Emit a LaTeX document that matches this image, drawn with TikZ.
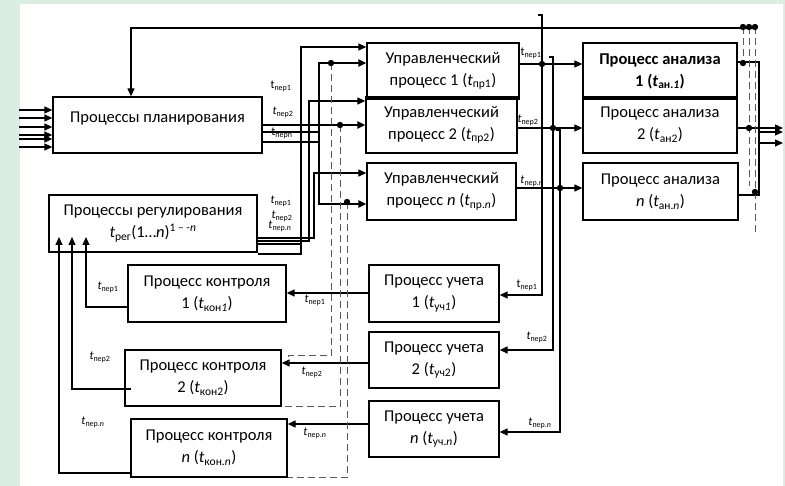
\documentclass[tikz,border=0pt]{standalone}
\usepackage{fontspec}
\setmainfont{Carlito}
\usepackage{xcolor}
\usetikzlibrary{arrows.meta}

\definecolor{bggreen}{RGB}{220,238,226}
\newcommand{\ti}[1]{\textit{t}\textsubscript{#1}}
\newcommand{\tu}[1]{t\textsubscript{#1}}

\tikzset{
  box/.style={draw, line width=1.3pt, align=center, inner sep=0pt,
    font=\fontsize{16.5}{22}\selectfont},
  wh/.style 2 args={minimum width=#1pt, minimum height=#2pt},
  arr/.style={-{Triangle[length=8pt,width=7pt]}},
  ln/.style={line width=1.2pt},
  thk/.style={line width=2.4pt},
  dsh/.style={black!65, line width=1pt, dash pattern=on 7pt off 4pt},
  lbl/.style={font=\fontsize{12}{13}\selectfont, inner sep=0pt},
}

\begin{document}
\begin{tikzpicture}[x=1pt,y=-1pt]
    \useasboundingbox (0,0) rectangle (785,486);
    \fill[bggreen] (0,0) rectangle (785,486);
    \fill[white] (20,4) rectangle (783,486);

    \node[box, wh={209}{56}, text depth=15pt] (plan) at (157.5,125) {Процессы планирования};
    \node[box, wh={208}{57}] (reg) at (153,223.5) {Процессы регулирования\\\ti{рег}(1…\textit{n})\textsuperscript{1 – -\textit{n}}};

    \node[box, wh={152}{56}] (mgmtA) at (443,71) {Управленческий\\процесс 1 (\ti{пр1})};
    \node[box, wh={151}{56}] (mgmtB) at (441.5,125) {Управленческий\\процесс 2 (\ti{пр2})};
    \node[box, wh={149}{57}] (mgmtN) at (441.5,191.5) {Управленческий\\процесс \textit{n} (\ti{пр.\textit{n}})};

    \node[box, wh={154}{56}, font=\fontsize{16.5}{22}\selectfont\bfseries] (anA) at (660,71) {Процесс анализа\\1 (\ti{ан.\textit{1}})};
    \node[box, wh={154}{56}] (anB) at (660,125) {Процесс анализа\\2 (\ti{ан2})};
    \node[box, wh={155}{57}] (anN) at (660.5,191.5) {Процесс анализа\\\textit{n} (\ti{ан.\textit{n}})};

    \node[box, wh={158}{57}] (ctlA) at (207,293.5) {Процесс контроля\\1 (\ti{кон\textit{1}})};
    \node[box, wh={156}{56}] (ctlB) at (203,378) {Процесс контроля\\2 (\ti{кон2})};
    \node[box, wh={156}{58}] (ctlN) at (209,448) {Процесс контроля\\\textit{n} (\ti{кон.\textit{n}})};

    \node[box, wh={130}{57}] (accA) at (434,293.5) {Процесс учета\\1 (\ti{уч\textit{1}})};
    \node[box, wh={130}{56}] (accB) at (434,360) {Процесс учета\\2 (\ti{уч2})};
    \node[box, wh={130}{56}] (accN) at (434,429) {Процесс учета\\\textit{n} (\ti{уч.\textit{n}})};

    \foreach \y in {110,118,127,135,139,147}
        \draw[ln,arr] (plan.west |- 0,\y) +(-33,0) -- (plan.west |- 0,\y);

    \coordinate (fb) at (757,28);
    \draw[ln,arr] (fb) -| (plan.north -| 131,0);

    \draw[thk,arr] (plan.east |- 0,125) -- (mgmtB.west |- 0,125);
    \draw[ln] (plan.east |- 0,132) -- (319,132);
    \draw[thk,arr] (plan.east |- 0,142) -- (319,142) |- (mgmtA.west |- 0,63);
    \draw[thk,arr] (319,142) |- (mgmtN.west |- 0,204);

    \draw[ln,arr] (reg.east |- 0,238) -| (314,173) -- (mgmtN.west |- 0,173);
    \draw[ln,arr] (reg.east |- 0,241) -| (309,101) -- (mgmtB.west |- 0,101);
    \draw[ln] (reg.east |- 0,244) -- (301,244);
    \draw[ln,arr] (reg.east |- 0,254) -| (301,47) -- (mgmtA.west |- 0,47);

    \draw[ln,arr] (mgmtA.east |- 0,64) -- (anA.west |- 0,64);
    \draw[ln,arr] (mgmtB.east |- 0,128) -- (anB.west |- 0,128);
    \draw[ln,arr] (mgmtN.east |- 0,188) -- (anN.west |- 0,188);

    \draw[ln,arr] (538,15) -- (542,15) |- (accA.east |- 0,295);
    \draw[ln,arr] (549,57) -- (553,57) |- (accB.east |- 0,350);
    \draw[ln,arr] (556,130) -- (560,130) |- (accN.east |- 0,432);

    \coordinate (rb) at (759,195);
    \draw[ln] (anA.east |- 0,62) -| (rb) -- (anN.east |- rb);
    \draw[ln,arr] (anB.east |- 0,128) -- (783,128);
    \draw[ln,arr] (rb |- 0,132) -- (783,132);
    \draw[ln,arr] (rb |- 0,143) -- (783,143);

    \draw[ln,arr] (accA.west |- 0,293) -- (ctlA.east |- 0,293);
    \draw[ln,arr] (accB.west |- 0,363) -- (ctlB.east |- 0,363);
    \draw[ln,arr] (accN.west |- 0,424) -- (ctlN.east |- 0,424);

    \draw[ln,arr] (ctlA.west |- 0,307) -| (86,237);
    \draw[ln,arr] ([xshift=7pt]ctlB.west |- 0,389) -| (72,237);
    \draw[ln,arr] (ctlN.west |- 0,473) -| (59,237);

    \draw[dsh] (331,63) |- (288,356) -- (288,362);
    \draw[dsh] (340,125) |- (ctlB.south east);
    \draw[dsh] (347,202) |- (ctlN.south east);
    \draw[dsh] (743,27) -- (743,63);
    \draw[dsh] (749,27) -- (749,186);
    \draw[dsh] (755,27) -- (755,236);

    \foreach \p in {(331,63),(340,125),(347,202),(542,64),(553,128),(560,188),
                    (743,27),(749,27),(755,27),(743,63),(749,128),(755,192)}
        \fill \p circle (3.2pt);

    \node[lbl] (p1) at (281,86) {\tu{пер1}};
    \node[lbl] (p2) at (283,112) {\ti{пер2}};
    \node[lbl] (pn) at (282,133) {\tu{перn}};
    \node[lbl] (r1) at (281,201) {\ti{пер1}};
    \node[lbl] (r2) at (282,216) {\ti{пер2}};
    \node[lbl] (rn) at (280,226) {\ti{пер.\textit{n}}};
    \node[lbl] (m1) at (531,53) {\tu{пер1}};
    \node[lbl] (m2) at (528,120) {\ti{пер2}};
    \node[lbl] (mn) at (532,181) {\ti{пер.\textit{n}}};
    \node[lbl] (u1) at (527,285) {\tu{пер1}};
    \node[lbl] (u2) at (537,337) {\ti{пер2}};
    \node[lbl] (un) at (540,423) {\ti{пер.\textit{n}}};
    \node[lbl] (a1) at (315,300) {\ti{пер1}};
    \node[lbl] (a2) at (312,372) {\ti{пер2}};
    \node[lbl] (an) at (315,433) {\ti{пер.\textit{n}}};
    \node[lbl] (c1) at (108,287) {\ti{пер1}};
    \node[lbl] (c2) at (100,357) {\ti{пер2}};
    \node[lbl] (cn) at (93,422) {\ti{пер.\textit{n}}};
\end{tikzpicture}
\end{document}
